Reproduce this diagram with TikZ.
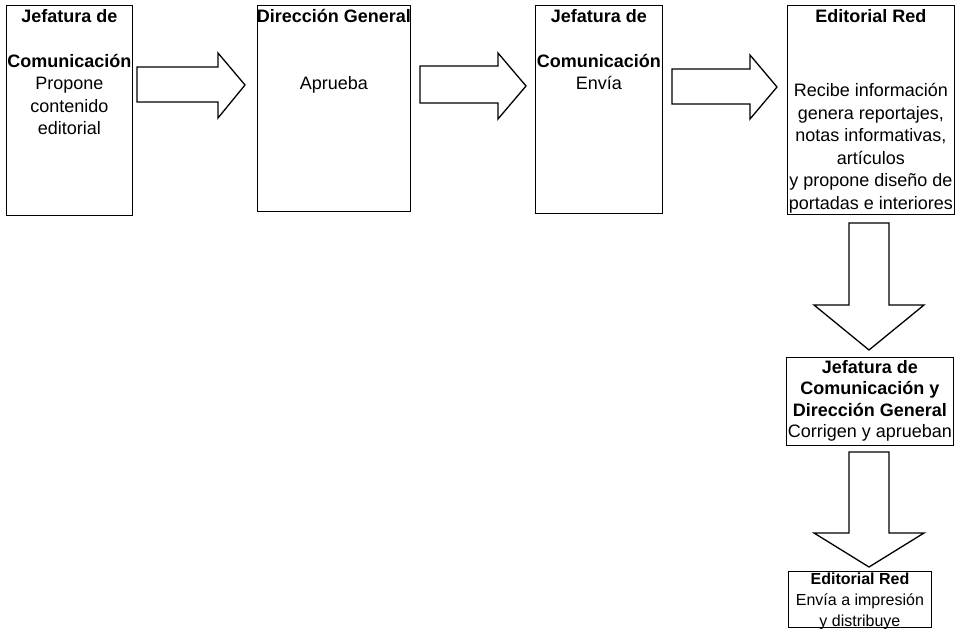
\documentclass[tikz,border=0pt]{standalone}
\usepackage{fontspec}
\setmainfont{Liberation Sans}
\usetikzlibrary{positioning}

\tikzset{
  caja/.style={draw, line width=0.9pt, inner sep=0pt, anchor=north west},
  texto/.style={anchor=north, align=center, inner sep=4pt, font=\fontsize{18}{22.5}\selectfont},
  flecha/.style={draw, line width=1.3pt, line join=miter}
}

\begin{document}
\begin{tikzpicture}[x=1pt,y=-1pt]
\useasboundingbox (0,0) rectangle (956,629);
%\draw[help lines, color=gray!30] (0,0) grid[step=50] (956,629);
% fila superior
\node[caja, minimum width=126, minimum height=210] (jefa) at (6,5) {};
\node[caja, minimum width=153, minimum height=206] (dir) at (257,5) {};
\node[caja, minimum width=127, minimum height=208] (jefb) at (535,5) {};
\node[caja, minimum width=167, minimum height=209] (edia) at (787,5) {};
% columna derecha
\node[caja, minimum width=167, minimum height=88] (corr) at (786,357) {};
\node[caja, minimum width=143, minimum height=56] (edib) at (788,571) {};
% textos
\node[texto] (tjefa) at (jefa.north) {\textbf{Jefatura de}\\[22.5pt]\textbf{Comunicación}\\Propone\\contenido\\editorial};
\node[texto] (tdir) at (dir.north) {\textbf{Dirección General}\\[45pt]Aprueba};
\node[texto] (tjefb) at (jefb.north) {\textbf{Jefatura de}\\[22.5pt]\textbf{Comunicación}\\Envía};
\node[texto] (tedia) at (edia.north) {\textbf{Editorial Red}\\[52pt]Recibe información\\genera reportajes,\\notas informativas,\\artículos\\y propone diseño de\\portadas e interiores};
\node[texto, inner sep=3pt, font=\fontsize{18}{21.5}\selectfont] (tcorr) at (corr.north) {\textbf{Jefatura de}\\\textbf{Comunicación y}\\\textbf{Dirección General}\\Corrigen y aprueban};
\node[texto, inner sep=2pt, font=\fontsize{16}{21}\selectfont] (tedib) at (edib.north) {\textbf{Editorial Red}\\Envía a impresión\\y distribuye};
% flechas
\draw[flecha] (137,67) -- (218,67) -- (218,53) -- (245,85) -- (218,118) -- (218,102) -- (137,102) -- cycle;
\draw[flecha] (420,66) -- (498,66) -- (498,53) -- (526,86) -- (498,119) -- (498,103) -- (420,103) -- cycle;
\draw[flecha] (672,69) -- (750,69) -- (750,55) -- (777,87) -- (750,119) -- (750,104) -- (672,104) -- cycle;
\draw[flecha] (849,223) -- (889,223) -- (889,305) -- (924,305) -- (869,350) -- (814,305) -- (849,305) -- cycle;
\draw[flecha] (849,452) -- (889,452) -- (889,533) -- (924,533) -- (869,567) -- (814,533) -- (849,533) -- cycle;
\end{tikzpicture}
\end{document}
